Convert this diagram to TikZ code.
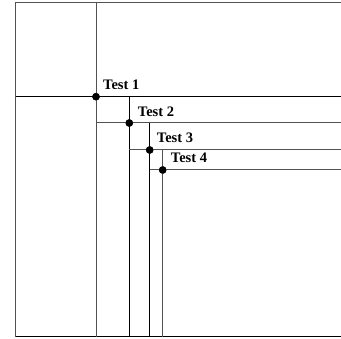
\documentclass[tikz,border=0pt]{standalone}
\usepackage{fontspec}
\setmainfont{Liberation Serif}
\begin{document}
\begin{tikzpicture}[x=1pt,y=-1pt,
  blk/.style={draw=black,line width=1pt},
  gry/.style={draw=black!68,line width=1pt},
  dot/.style={circle,fill=black,inner sep=0pt,minimum size=7.5pt},
  lbl/.style={anchor=base west,inner sep=0pt,font=\fontsize{14.5}{16}\selectfont\bfseries}]
\useasboundingbox (0,0) rectangle (341,339);
% frame corners
\coordinate (tl) at (15.5,3);
\coordinate (bl) at (15.5,337);
\coordinate (tr) at (341,3);
\coordinate (br) at (341,337);
% junction points
\node[dot] (d1) at (96,96.7) {};
\node[dot] (d2) at (129.3,123) {};
\node[dot] (d3) at (149.7,150) {};
\node[dot] (d4) at (162.7,170) {};
% ends
\coordinate (v1t) at (96,3);
\coordinate (v1b) at (96,337);
\coordinate (h1l) at (15.5,96.7);
\coordinate (h1r) at (341,96.7);
\coordinate (v2t) at (129.3,96.7);
\coordinate (v2b) at (129.3,337);
\coordinate (h2l) at (96,123);
\coordinate (h2r) at (341,123);
\coordinate (v3t) at (149.7,123);
\coordinate (v3b) at (149.7,337);
\coordinate (h3l) at (129.3,150);
\coordinate (h3r) at (341,150);
\coordinate (v4t) at (162.7,150);
\coordinate (v4b) at (162.7,337);
\coordinate (h4l) at (149.7,170);
\coordinate (h4r) at (341,170);
% frame
\draw[gry] (tr) -- (tl) -- (bl);
\draw[blk] (bl) -- (br);
% lines
\draw[gry] (v1t) -- (v1b);
\draw[blk] (h1l) -- (h1r);
\draw[blk] (v2t) -- (v2b);
\draw[gry] (h2l) -- (h2r);
\draw[blk] (v3t) -- (v3b);
\draw[gry] (h3l) -- (h3r);
\draw[gry] (v4t) -- (v4b);
\draw[gry] (h4l) -- (h4r);
% redraw dots on top
\node[dot] at (d1) {};
\node[dot] at (d2) {};
\node[dot] at (d3) {};
\node[dot] at (d4) {};
% labels
\node[lbl] (t1) at ([xshift=7pt,yshift=6.7pt]d1.center) {Test 1};
\node[lbl] (t2) at ([xshift=8.4pt,yshift=6.3pt]d2.center) {Test 2};
\node[lbl] (t3) at ([xshift=7pt,yshift=7.3pt]d3.center) {Test 3};
\node[lbl] (t4) at ([xshift=8pt,yshift=7.3pt]d4.center) {Test 4};
\end{tikzpicture}
\end{document}
